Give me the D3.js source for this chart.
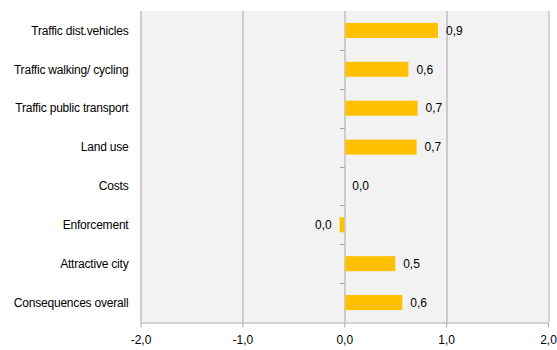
<!DOCTYPE html>
<html>
<head>
<meta charset="utf-8">
<script src="https://cdn.jsdelivr.net/npm/d3@7"></script>
<style>
  html, body { margin: 0; padding: 0; background: #fff; }
  svg { display: block; }
  text { font-family: "Liberation Sans", Arial, sans-serif; font-size: 12px; fill: #000; }
</style>
</head>
<body>
<svg id="chart" width="557" height="350"></svg>
<script>
// Categories, top to bottom
const categories = [
  "Traffic dist.vehicles",
  "Traffic walking/ cycling",
  "Traffic public transport",
  "Land use",
  "Costs",
  "Enforcement",
  "Attractive city",
  "Consequences overall"
];
// Bar values
const values = [0.92, 0.63, 0.72, 0.71, 0.0, -0.045, 0.50, 0.57];
// Value-axis ticks
const xTicks = [-2, -1, 0, 1, 2];

// One decimal, comma separator, plain hyphen for negatives
const fmt = v => (Math.abs(v) < 0.05 ? 0 : v).toFixed(1).replace(".", ",");

const svg = d3.select("#chart");
const margin = { top: 11, right: 9, bottom: 28, left: 140.5 };
const width = 557 - margin.left - margin.right;
const height = 350 - margin.top - margin.bottom;

const x = d3.scaleLinear().domain([-2, 2]).range([0, width]);
const band = d3.scaleBand().domain(categories).range([0, height]);

const g = svg.append("g").attr("transform", `translate(${margin.left},${margin.top})`);

// Plot background
g.append("rect").attr("x", 0).attr("y", 0).attr("width", width).attr("height", height).attr("fill", "#f2f2f2");

// Vertical gridlines
g.selectAll("line.grid").data(xTicks).join("line")
  .attr("class", "grid")
  .attr("x1", d => Math.round(x(d)) + 0.5).attr("x2", d => Math.round(x(d)) + 0.5)
  .attr("y1", 0).attr("y2", height)
  .attr("stroke", "#a6a6a6").attr("stroke-width", 1);

// Bottom value axis
const xAxis = g.append("g").attr("transform", `translate(0,${height + 0.5})`)
  .call(d3.axisBottom(x).tickValues(xTicks).tickSize(5).tickSizeOuter(0).tickFormat(fmt));
xAxis.select(".domain").attr("stroke", "#a6a6a6");
xAxis.selectAll(".tick line").attr("stroke", "#a6a6a6");
xAxis.selectAll(".tick text").attr("dy", "1.1em").style("font-size", "12px")
  .style("font-family", "\"Liberation Sans\", Arial, sans-serif");

// Category axis on the zero line, ticks on band boundaries
const boundaries = band.domain().slice(1).map(c => band(c));
g.selectAll("line.ytick").data(boundaries).join("line")
  .attr("class", "ytick")
  .attr("x1", Math.round(x(0)) + 0.5 - 5).attr("x2", Math.round(x(0)) + 0.5)
  .attr("y1", d => Math.round(d) + 0.5).attr("y2", d => Math.round(d) + 0.5)
  .attr("stroke", "#a6a6a6");

// Bars
g.selectAll("rect.bar").data(values).join("rect")
  .attr("class", "bar")
  .attr("x", d => x(Math.min(0, d)) + (d >= 0 ? 1 : 0))
  .attr("y", (d, i) => band(categories[i]) + band.bandwidth() / 2 - 7.5)
  .attr("width", d => Math.max(0, Math.abs(x(d) - x(0)) - (d >= 0 ? 1 : 0)))
  .attr("height", 15)
  .attr("fill", "#ffc000");

// Value labels
g.selectAll("text.val").data(values).join("text")
  .attr("class", "val")
  .attr("x", d => d < 0 ? x(d) - 8 : x(d) + 8)
  .attr("y", (d, i) => band(categories[i]) + band.bandwidth() / 2)
  .attr("dy", "0.35em")
  .attr("text-anchor", d => d < 0 ? "end" : "start")
  .text(fmt);

// Category labels
g.selectAll("text.cat").data(categories).join("text")
  .attr("class", "cat")
  .attr("x", -12)
  .attr("y", d => band(d) + band.bandwidth() / 2)
  .attr("dy", "0.35em")
  .attr("text-anchor", "end")
  .style("letter-spacing", "-0.2px")
  .text(d => d);
</script>
</body>
</html>
